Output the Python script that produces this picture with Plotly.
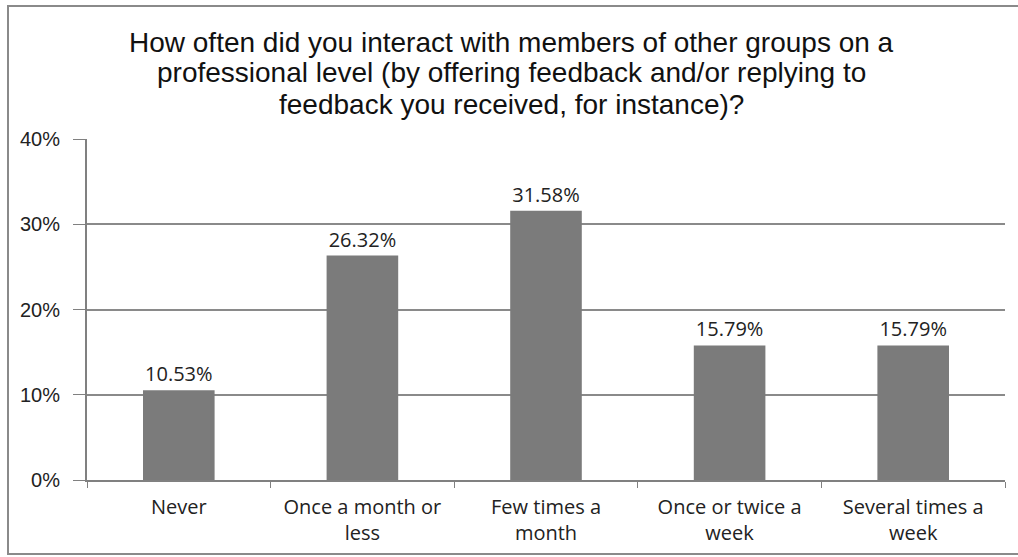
import plotly.graph_objects as go

categories = ["Never", "Once a month or<br>less", "Few times a<br>month",
              "Once or twice a<br>week", "Several times a<br>week"]
values = [10.53, 26.32, 31.58, 15.79, 15.79]
y_ticks = [0, 10, 20, 30, 40]
y_tick_labels = ["0%", "10%", "20%", "30%", "40%"]
title_lines = [
    "How often did you interact with members of other groups on a",
    "professional level (by offering feedback and/or replying to",
    "feedback you received, for instance)?",
]

W, H = 1018, 557
ML, MR, MT, MB = 87, 13, 139, 77
pw, ph = W - ML - MR, H - MT - MB

LABEL_FONT = "Open Sans, sans-serif"

fig = go.Figure(go.Bar(
    x=categories,
    y=values,
    marker=dict(color="#7b7b7b", line=dict(width=0)),
    text=[f"{v:.2f}%" for v in values],
    textposition="outside",
    textfont=dict(family=LABEL_FONT, size=20, color="#222"),
    cliponaxis=False,
))

# outer frame of the chart (open on the right side, beyond the page edge)
fig.add_shape(type="rect", xref="paper", yref="paper",
              x0=(8 - ML) / pw, x1=(1030 - ML) / pw,
              y0=-(554 - (H - MB)) / ph, y1=1 + (MT - 6) / ph,
              line=dict(color="#8a8a8a", width=2), layer="below")

# three-line title, one annotation per line for tight line spacing
for i, line in enumerate(title_lines):
    fig.add_annotation(
        text=line, xref="paper", x=(511 - ML) / pw, xanchor="center",
        yref="paper", y=1 + (MT - (42 + 31 * i)) / ph, yanchor="middle",
        showarrow=False,
        font=dict(family="Liberation Sans, Arial, sans-serif", size=28, color="#111"),
    )

fig.update_layout(
    width=W, height=H,
    margin=dict(l=ML, r=MR, t=MT, b=MB),
    paper_bgcolor="white", plot_bgcolor="white",
    bargap=0.61,
    showlegend=False,
    xaxis=dict(
        showline=True, linecolor="#808080", linewidth=2,
        ticks="outside", tickson="boundaries", ticklen=6, tickcolor="#808080",
        tickfont=dict(family=LABEL_FONT, size=20, color="#222"),
        ticklabelstandoff=8,
        showgrid=False,
    ),
    yaxis=dict(
        range=[0, 40], tickvals=y_ticks, ticktext=y_tick_labels,
        showline=True, linecolor="#808080", linewidth=2,
        ticks="outside", ticklen=12, tickcolor="#808080",
        showgrid=True, gridcolor="#8a8a8a", gridwidth=1.5,
        tickfont=dict(family="Liberation Sans, Arial, sans-serif", size=20, color="#222"),
        ticklabelstandoff=9,
        zeroline=False,
    ),
)

fig.write_html("out.html")
